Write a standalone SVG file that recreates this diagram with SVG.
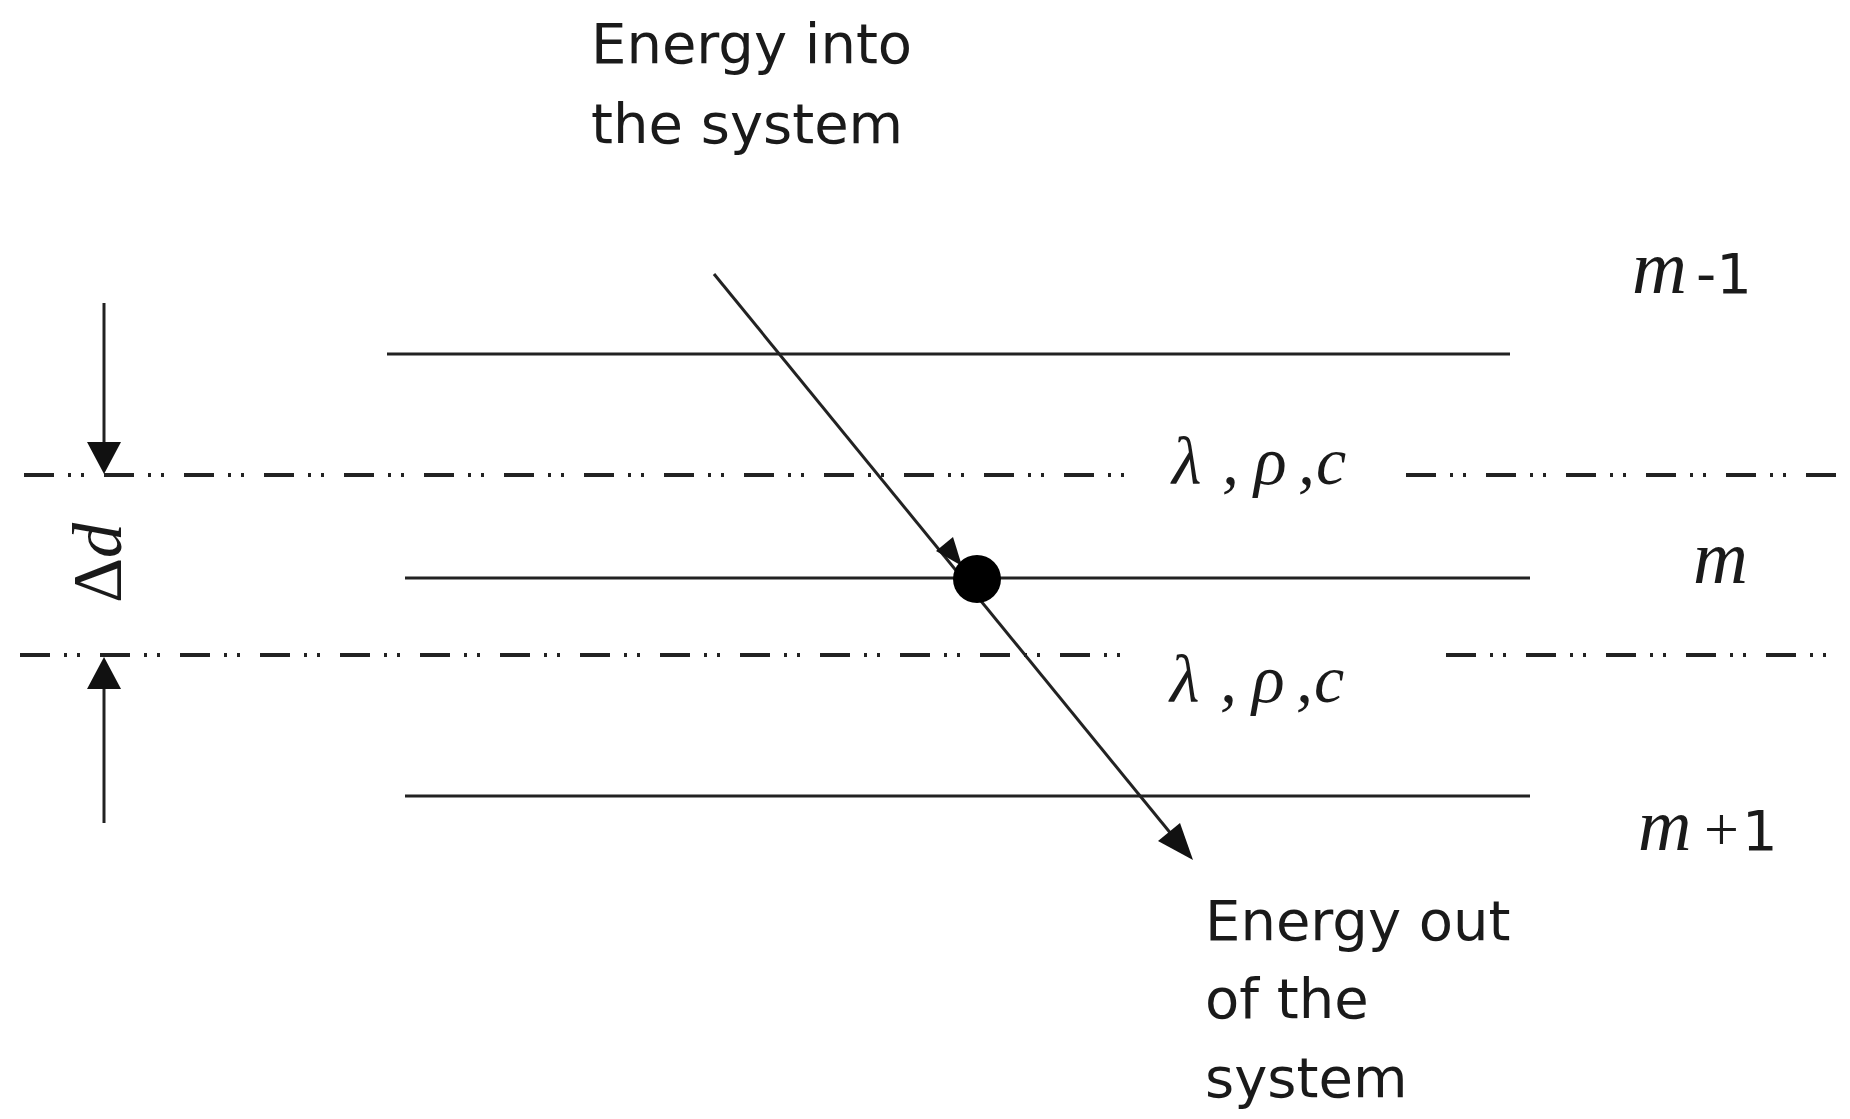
<svg xmlns="http://www.w3.org/2000/svg" width="1850" height="1119" viewBox="0 0 1850 1119">
<defs>
<style>
.solid{stroke:#222;stroke-width:3;fill:none}
.dd{stroke:#222;stroke-width:4;fill:none;stroke-dasharray:30 14 3 10 3 20}
.lbl{font-family:"DejaVu Sans",Verdana,sans-serif;font-size:56px;fill:#1a1a1a}
.math{font-family:"Liberation Serif","Times New Roman",serif;font-style:italic;fill:#1a1a1a}
.num{font-family:"DejaVu Sans",sans-serif;fill:#1a1a1a}
</style>
</defs>
<rect width="1850" height="1119" fill="#fff"/>

<g id="layers">
<line class="solid" x1="387" y1="354" x2="1510" y2="354"/>
<line class="solid" x1="405" y1="578" x2="1530" y2="578"/>
<line class="solid" x1="405" y1="796" x2="1530" y2="796"/>
</g>

<g id="boundaries">
<line class="dd" x1="24" y1="475" x2="1130" y2="475"/>
<line class="dd" x1="1406" y1="475" x2="1842" y2="475"/>
<line class="dd" x1="20" y1="655" x2="1134" y2="655"/>
<line class="dd" x1="1446" y1="655" x2="1836" y2="655"/>
</g>

<g id="connectors">
<line class="solid" x1="104" y1="303" x2="104" y2="445"/>
<polygon points="87,442 121,442 104,474" fill="#111"/>
<line class="solid" x1="104" y1="823" x2="104" y2="685"/>
<polygon points="87,689 121,689 104,657" fill="#111"/>
<line class="solid" x1="714" y1="274" x2="1172" y2="835"/>
<polygon points="1193,860 1158,841 1180,823" fill="#111"/>
<polygon points="962,566 936,551 953,537" fill="#111"/>
</g>

<g id="node-dot">
<circle cx="977" cy="579" r="24" fill="#000"/>
</g>

<g id="label-in">
<text class="lbl" x="591" y="63">Energy into</text>
<text class="lbl" x="591" y="143">the system</text>
</g>

<g id="label-out">
<text class="lbl" x="1205" y="940">Energy out</text>
<text class="lbl" x="1205" y="1018">of the</text>
<text class="lbl" x="1205" y="1097">system</text>
</g>

<g id="props-upper">
<text class="math" font-size="68" y="484"><tspan x="1172">λ</tspan><tspan x="1222">,</tspan><tspan x="1254">ρ</tspan><tspan x="1298">,</tspan><tspan x="1316">c</tspan></text>
</g>
<g id="props-lower">
<text class="math" font-size="68" y="702"><tspan x="1170">λ</tspan><tspan x="1220">,</tspan><tspan x="1252">ρ</tspan><tspan x="1296">,</tspan><tspan x="1314">c</tspan></text>
</g>

<g id="label-delta">
<text class="math" font-size="70" text-anchor="middle" transform="translate(121,563) rotate(-90)"><tspan font-style="normal">Δ</tspan>d</text>
</g>

<g id="label-m-1">
<text class="math" font-size="76" x="1632" y="293">m</text>
<text class="num" font-size="56" x="1696" y="293">-1</text>
</g>
<g id="label-m">
<text class="math" font-size="76" x="1693" y="583">m</text>
</g>
<g id="label-m+1">
<text class="math" font-size="74" x="1638" y="850">m</text>
<text class="math" font-size="62" font-style="normal" x="1700" y="850">+</text>
<text class="num" font-size="56" x="1742" y="850">1</text>
</g>
</svg>
